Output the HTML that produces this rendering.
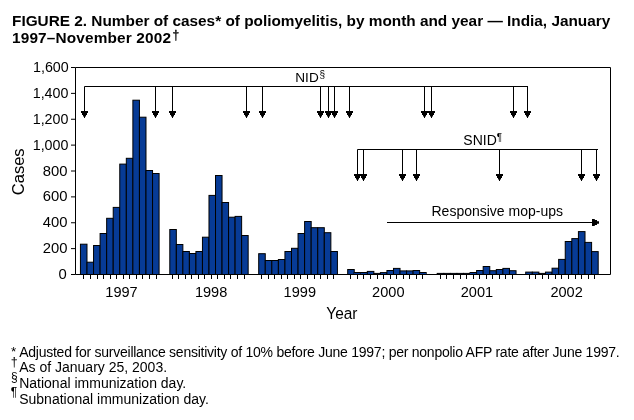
<!DOCTYPE html>
<html><head><meta charset="utf-8"><style>
html,body{margin:0;padding:0;background:#fff;width:634px;height:420px;overflow:hidden}
svg{position:absolute;left:0;top:0;will-change:transform}
text{font-family:"Liberation Sans",sans-serif;fill:#000}
.ax{font-size:14px}
.lab{font-size:14px}
.sup{font-size:10px}
.big{font-size:16.5px}
.yr{font-size:16.7px}
.lab2{font-size:13.6px}
.t{font-weight:bold;font-size:15.36px}
.fn{font-size:14px}
.fn1{font-size:14px;letter-spacing:-0.25px}
.fs{font-size:10px}
</style></head><body>
<svg width="634" height="420" viewBox="0 0 634 420">
<text x="12" y="26" class="t">FIGURE 2. Number of cases* of poliomyelitis, by month and year — India, January</text>
<text x="12" y="43" class="t" letter-spacing="0.16">1997–November 2002</text><text x="172.6" y="39.3" font-size="12px" stroke="#000" stroke-width="0.3">†</text>
<g fill="#073b96" stroke="#000" stroke-width="1"><rect x="80.44" y="244.20" width="6.55" height="30.30"/><rect x="87.00" y="262.20" width="6.55" height="12.30"/><rect x="93.55" y="245.50" width="6.55" height="29.00"/><rect x="100.10" y="233.50" width="6.55" height="41.00"/><rect x="106.66" y="218.30" width="6.55" height="56.20"/><rect x="113.22" y="207.40" width="6.55" height="67.10"/><rect x="119.77" y="164.10" width="6.55" height="110.40"/><rect x="126.32" y="158.30" width="6.55" height="116.20"/><rect x="132.88" y="100.20" width="6.55" height="174.30"/><rect x="139.44" y="117.20" width="6.55" height="157.30"/><rect x="145.99" y="170.50" width="6.55" height="104.00"/><rect x="152.54" y="173.50" width="6.55" height="101.00"/><rect x="169.80" y="229.50" width="6.53" height="45.00"/><rect x="176.33" y="244.50" width="6.53" height="30.00"/><rect x="182.86" y="251.50" width="6.53" height="23.00"/><rect x="189.39" y="253.50" width="6.53" height="21.00"/><rect x="195.92" y="251.50" width="6.53" height="23.00"/><rect x="202.45" y="237.20" width="6.53" height="37.30"/><rect x="208.98" y="195.40" width="6.53" height="79.10"/><rect x="215.51" y="175.50" width="6.53" height="99.00"/><rect x="222.04" y="202.50" width="6.53" height="72.00"/><rect x="228.57" y="217.20" width="6.53" height="57.30"/><rect x="235.10" y="216.40" width="6.53" height="58.10"/><rect x="241.63" y="235.50" width="6.53" height="39.00"/><rect x="258.70" y="253.70" width="6.56" height="20.80"/><rect x="265.26" y="260.50" width="6.56" height="14.00"/><rect x="271.82" y="260.50" width="6.56" height="14.00"/><rect x="278.38" y="259.50" width="6.56" height="15.00"/><rect x="284.94" y="251.50" width="6.56" height="23.00"/><rect x="291.50" y="248.30" width="6.56" height="26.20"/><rect x="298.06" y="233.50" width="6.56" height="41.00"/><rect x="304.62" y="221.50" width="6.56" height="53.00"/><rect x="311.18" y="227.70" width="6.56" height="46.80"/><rect x="317.74" y="227.70" width="6.56" height="46.80"/><rect x="324.30" y="232.70" width="6.56" height="41.80"/><rect x="330.86" y="251.50" width="6.56" height="23.00"/><rect x="347.70" y="269.50" width="6.54" height="5.00"/><rect x="354.24" y="272.50" width="6.54" height="2.00"/><rect x="360.78" y="272.50" width="6.54" height="2.00"/><rect x="367.32" y="271.40" width="6.54" height="3.10"/><rect x="373.86" y="273.40" width="6.54" height="1.10"/><rect x="380.40" y="272.60" width="6.54" height="1.90"/><rect x="386.94" y="270.50" width="6.54" height="4.00"/><rect x="393.48" y="268.40" width="6.54" height="6.10"/><rect x="400.02" y="270.90" width="6.54" height="3.60"/><rect x="406.56" y="270.90" width="6.54" height="3.60"/><rect x="413.10" y="270.50" width="6.54" height="4.00"/><rect x="419.64" y="272.50" width="6.54" height="2.00"/><rect x="437.20" y="273.40" width="6.57" height="1.10"/><rect x="443.77" y="273.40" width="6.57" height="1.10"/><rect x="450.34" y="273.40" width="6.57" height="1.10"/><rect x="456.91" y="273.40" width="6.57" height="1.10"/><rect x="463.48" y="273.40" width="6.57" height="1.10"/><rect x="470.05" y="272.50" width="6.57" height="2.00"/><rect x="476.62" y="270.50" width="6.57" height="4.00"/><rect x="483.19" y="266.50" width="6.57" height="8.00"/><rect x="489.76" y="270.70" width="6.57" height="3.80"/><rect x="496.33" y="269.50" width="6.57" height="5.00"/><rect x="502.90" y="268.40" width="6.57" height="6.10"/><rect x="509.47" y="270.70" width="6.57" height="3.80"/><rect x="525.70" y="272.10" width="6.59" height="2.40"/><rect x="532.29" y="272.10" width="6.59" height="2.40"/><rect x="538.88" y="273.40" width="6.59" height="1.10"/><rect x="545.47" y="272.10" width="6.59" height="2.40"/><rect x="552.06" y="268.20" width="6.59" height="6.30"/><rect x="558.65" y="259.40" width="6.59" height="15.10"/><rect x="565.24" y="241.50" width="6.59" height="33.00"/><rect x="571.83" y="238.60" width="6.59" height="35.90"/><rect x="578.42" y="231.60" width="6.59" height="42.90"/><rect x="585.01" y="242.40" width="6.59" height="32.10"/><rect x="591.60" y="251.60" width="6.59" height="22.90"/></g>
<path d="M75.5 67.5H610.5V274.5M75.5 67.5V274.5H610.5" fill="none" stroke="#000" stroke-width="1"/>
<path d="M71 67.50H75.5M71 93.38H75.5M71 119.25H75.5M71 145.12H75.5M71 171.00H75.5M71 196.88H75.5M71 222.75H75.5M71 248.62H75.5M71 274.50H75.5" stroke="#000" stroke-width="1" fill="none"/>
<path d="M83.5 274.5V279.0M90.5 274.5V279.0M97.5 274.5V279.0M103.5 274.5V279.0M110.5 274.5V279.0M116.5 274.5V279.0M123.5 274.5V279.0M129.5 274.5V279.0M136.5 274.5V279.0M142.5 274.5V279.0M149.5 274.5V279.0M156.5 274.5V279.0M172.5 274.5V279.0M178.5 274.5V279.0M185.5 274.5V279.0M191.5 274.5V279.0M198.5 274.5V279.0M204.5 274.5V279.0M211.5 274.5V279.0M217.5 274.5V279.0M224.5 274.5V279.0M230.5 274.5V279.0M237.5 274.5V279.0M244.5 274.5V279.0M261.5 274.5V279.0M268.5 274.5V279.0M274.5 274.5V279.0M281.5 274.5V279.0M287.5 274.5V279.0M294.5 274.5V279.0M300.5 274.5V279.0M307.5 274.5V279.0M314.5 274.5V279.0M320.5 274.5V279.0M327.5 274.5V279.0M333.5 274.5V279.0M350.5 274.5V279.0M357.5 274.5V279.0M363.5 274.5V279.0M370.5 274.5V279.0M377.5 274.5V279.0M383.5 274.5V279.0M390.5 274.5V279.0M396.5 274.5V279.0M403.5 274.5V279.0M409.5 274.5V279.0M416.5 274.5V279.0M422.5 274.5V279.0M440.5 274.5V279.0M446.5 274.5V279.0M453.5 274.5V279.0M460.5 274.5V279.0M466.5 274.5V279.0M473.5 274.5V279.0M479.5 274.5V279.0M486.5 274.5V279.0M492.5 274.5V279.0M499.5 274.5V279.0M505.5 274.5V279.0M512.5 274.5V279.0M529.5 274.5V279.0M535.5 274.5V279.0M542.5 274.5V279.0M548.5 274.5V279.0M555.5 274.5V279.0M561.5 274.5V279.0M568.5 274.5V279.0M575.5 274.5V279.0M581.5 274.5V279.0M588.5 274.5V279.0M594.5 274.5V279.0" stroke="#000" stroke-width="1" fill="none"/>
<text transform="translate(68.7 72.00) scale(1.02 1)" text-anchor="end" class="ax">1,600</text>
<text transform="translate(68.4 97.88) scale(1.02 1)" text-anchor="end" class="ax">1,400</text>
<text transform="translate(68.4 123.75) scale(1.02 1)" text-anchor="end" class="ax">1,200</text>
<text transform="translate(68.4 149.62) scale(1.02 1)" text-anchor="end" class="ax">1,000</text>
<text transform="translate(67.6 175.50) scale(1.06 1)" text-anchor="end" class="ax">800</text>
<text transform="translate(67.6 201.38) scale(1.06 1)" text-anchor="end" class="ax">600</text>
<text transform="translate(67.6 227.25) scale(1.06 1)" text-anchor="end" class="ax">400</text>
<text transform="translate(67.6 253.12) scale(1.06 1)" text-anchor="end" class="ax">200</text>
<text transform="translate(66.8 279.00) scale(1.06 1)" text-anchor="end" class="ax">0</text>
<text transform="translate(121.5 297) scale(1.04 1)" text-anchor="middle" class="ax">1997</text>
<text transform="translate(211.1 297) scale(1.04 1)" text-anchor="middle" class="ax">1998</text>
<text transform="translate(299.8 297) scale(1.04 1)" text-anchor="middle" class="ax">1999</text>
<text transform="translate(388.3 297) scale(1.04 1)" text-anchor="middle" class="ax">2000</text>
<text transform="translate(476.9 297) scale(1.04 1)" text-anchor="middle" class="ax">2001</text>
<text transform="translate(566.6 297) scale(1.04 1)" text-anchor="middle" class="ax">2002</text>
<path d="M84.5 86.5H528.0M84.5 86.5V112M155.5 86.5V112M172.5 86.5V112M246.5 86.5V112M262.5 86.5V112M320.5 86.5V112M328.5 86.5V112M334.5 86.5V112M349.5 86.5V112M424.5 86.5V112M431.5 86.5V112M513.5 86.5V112M527.5 86.5V112" stroke="#000" stroke-width="1" fill="none"/>
<path d="M81.0 111H88.0V113H87.0V115H86.0V116.5H85.0V118H84.0V116.5H83.0V115H82.0V113H81.0ZM152.0 111H159.0V113H158.0V115H157.0V116.5H156.0V118H155.0V116.5H154.0V115H153.0V113H152.0ZM169.0 111H176.0V113H175.0V115H174.0V116.5H173.0V118H172.0V116.5H171.0V115H170.0V113H169.0ZM243.0 111H250.0V113H249.0V115H248.0V116.5H247.0V118H246.0V116.5H245.0V115H244.0V113H243.0ZM259.0 111H266.0V113H265.0V115H264.0V116.5H263.0V118H262.0V116.5H261.0V115H260.0V113H259.0ZM317.0 111H324.0V113H323.0V115H322.0V116.5H321.0V118H320.0V116.5H319.0V115H318.0V113H317.0ZM325.0 111H332.0V113H331.0V115H330.0V116.5H329.0V118H328.0V116.5H327.0V115H326.0V113H325.0ZM331.0 111H338.0V113H337.0V115H336.0V116.5H335.0V118H334.0V116.5H333.0V115H332.0V113H331.0ZM346.0 111H353.0V113H352.0V115H351.0V116.5H350.0V118H349.0V116.5H348.0V115H347.0V113H346.0ZM421.0 111H428.0V113H427.0V115H426.0V116.5H425.0V118H424.0V116.5H423.0V115H422.0V113H421.0ZM428.0 111H435.0V113H434.0V115H433.0V116.5H432.0V118H431.0V116.5H430.0V115H429.0V113H428.0ZM510.0 111H517.0V113H516.0V115H515.0V116.5H514.0V118H513.0V116.5H512.0V115H511.0V113H510.0ZM524.0 111H531.0V113H530.0V115H529.0V116.5H528.0V118H527.0V116.5H526.0V115H525.0V113H524.0Z" fill="#000"/>
<text x="295.3" y="81.7" class="lab2">NID</text><text x="319.6" y="78.3" class="sup">§</text>
<path d="M357.5 149.5H598.0M357.5 149.5V175M363.5 149.5V175M402.5 149.5V175M416.5 149.5V175M499.5 149.5V175M581.5 149.5V175M596.5 149.5V175" stroke="#000" stroke-width="1" fill="none"/>
<path d="M354.0 174H361.0V176H360.0V178H359.0V179.5H358.0V181H357.0V179.5H356.0V178H355.0V176H354.0ZM360.0 174H367.0V176H366.0V178H365.0V179.5H364.0V181H363.0V179.5H362.0V178H361.0V176H360.0ZM399.0 174H406.0V176H405.0V178H404.0V179.5H403.0V181H402.0V179.5H401.0V178H400.0V176H399.0ZM413.0 174H420.0V176H419.0V178H418.0V179.5H417.0V181H416.0V179.5H415.0V178H414.0V176H413.0ZM496.0 174H503.0V176H502.0V178H501.0V179.5H500.0V181H499.0V179.5H498.0V178H497.0V176H496.0ZM578.0 174H585.0V176H584.0V178H583.0V179.5H582.0V181H581.0V179.5H580.0V178H579.0V176H578.0ZM593.0 174H600.0V176H599.0V178H598.0V179.5H597.0V181H596.0V179.5H595.0V178H594.0V176H593.0Z" fill="#000"/>
<text x="463.3" y="144.9" class="lab">SNID</text><text x="496.8" y="140.8" class="sup">¶</text>
<path d="M387 222.5H593" stroke="#000" stroke-width="1" fill="none"/>
<path d="M592 219V226H594.8V225H597V223.8H599V221.2H597V220H594.8V219Z" fill="#000"/>
<text x="431.5" y="215.5" class="lab">Responsive mop-ups</text>
<text transform="translate(326.3 318.9) scale(0.925 1)" class="yr">Year</text>
<text transform="translate(23.7 195.2) rotate(-90)" class="big">Cases</text>
<text x="11" y="356.2" font-size="13.5px">*</text>
<text x="19.2" y="356.8" class="fn1">Adjusted for surveillance sensitivity of 10% before June 1997; per nonpolio AFP rate after June 1997.</text>
<text x="10.8" y="365.6" font-size="12.5px">†</text>
<text x="19.2" y="371.7" class="fn">As of January 25, 2003.</text>
<text x="10.9" y="381" font-size="12px">§</text>
<text x="19.2" y="387.5" class="fn">National immunization day.</text>
<text x="10.8" y="395.6" font-size="12px">¶</text>
<text x="19.2" y="403.6" class="fn">Subnational immunization day.</text>
</svg>
</body></html>
